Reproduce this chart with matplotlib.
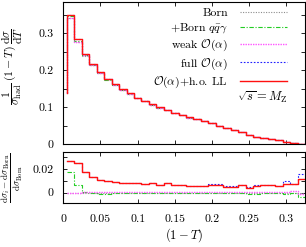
import numpy as np
import matplotlib
matplotlib.use("Agg")
import matplotlib.pyplot as plt

plt.rcParams['font.family'] = 'serif'
plt.rcParams['font.serif'] = ['cmr10', 'DejaVu Serif']
plt.rcParams['mathtext.fontset'] = 'cm'
plt.rcParams['axes.unicode_minus'] = False
plt.rcParams['axes.formatter.use_mathtext'] = True

# ---- data ----
bin_edges = np.round(np.arange(0.005, 0.3251, 0.01), 3)   # 32 bins of width 0.01
top_start = 0.138  # left edge of the first step

# O(alpha)+h.o. LL distribution (top panel)
ll_top = [0.350, 0.284, 0.244, 0.216, 0.195, 0.177, 0.162, 0.149, 0.138, 0.126,
          0.117, 0.108, 0.100, 0.093, 0.086, 0.080, 0.073, 0.068, 0.063, 0.057,
          0.051, 0.0445, 0.038, 0.033, 0.026, 0.021, 0.017, 0.014, 0.011, 0.008,
          0.005, 0.002]

# relative corrections (bottom panel)
r_born = [0.0] * 32
r_qqg = [0.017, 0.0063, 0.0003, 0.0, -0.0008, -0.001, -0.0005, -0.0003, 0.0, 0.0,
         0.0, 0.0, 0.0, 0.0, 0.0, 0.0, 0.0, 0.0, 0.0, 0.0,
         0.0, 0.0, 0.0, -0.0005, -0.0008, -0.0008, -0.0005, -0.0005, -0.0005, -0.0008,
         -0.0003, -0.0035]
r_weak = [0.0, 0.0, 0.0002, 0.0002, 0.0002, 0.0002, 0.0002, 0.0003, 0.0003, 0.0003,
          0.0003, 0.0003, 0.0003, 0.0003, 0.0003, 0.0003, 0.0004, 0.0004, 0.0004, 0.0004,
          0.0005, 0.0005, 0.0005, 0.0005, 0.0006, 0.0006, 0.0006, 0.0007, 0.0007, 0.0008,
          0.0012, -0.0015]
r_full = [0.027, 0.025, 0.017, 0.0135, 0.011, 0.010, 0.0092, 0.0085, 0.0085, 0.0085,
          0.0072, 0.0085, 0.0065, 0.008, 0.0068, 0.0062, 0.0055, 0.0055, 0.0058, 0.0072,
          0.0072, 0.0055, 0.0055, 0.0065, 0.0045, 0.0068, 0.0068, 0.0065, 0.0055, 0.0100,
          0.0075, 0.0160]
r_ll = [0.027, 0.025, 0.017, 0.0135, 0.011, 0.010, 0.0092, 0.0085, 0.008, 0.008,
        0.0072, 0.0085, 0.0065, 0.008, 0.0068, 0.0062, 0.0055, 0.0055, 0.0058, 0.0068,
        0.0068, 0.005, 0.005, 0.0065, 0.0035, 0.006, 0.0062, 0.0062, 0.0052, 0.007,
        0.007, 0.0115]

labels = ["Born", r"+Born $q\bar{q}\gamma$", r"weak $\mathcal{O}(\alpha)$",
          r"full $\mathcal{O}(\alpha)$", r"$\mathcal{O}(\alpha)$+h.o. LL"]

# derived top-panel curves: Born and Born*(1+ratio)
born_top = np.array(ll_top) / (1 + np.array(r_ll))
ratios = [r_born, r_qqg, r_weak, r_full, r_ll]
tops = [born_top * (1 + np.array(r)) for r in ratios]

styles = [
    dict(color='#8c8c8c', ls=(0, (1, 1.3)), lw=0.8),
    dict(color='#22cc22', ls=(0, (4, 1.5, 1, 1.5)), lw=0.8),
    dict(color='#ff55ff', ls=(0, (1, 0.8)), lw=1.0),
    dict(color='#1f1fff', ls=(0, (1.5, 1.5)), lw=0.8),
    dict(color='#ff1010', ls='-', lw=1.0),
]


def stair(edges, vals, start):
    x = np.r_[edges[0], edges]
    y = np.r_[start, vals, vals[-1]]
    return x, y


fig = plt.figure(figsize=(3.06, 2.47), dpi=100)
ax1 = fig.add_axes([0.2069, 0.415, 0.7898, 0.5781])
ax2 = fig.add_axes([0.2069, 0.1769, 0.7898, 0.2065])

handles = []
for vals, st, lab in zip(tops, styles, labels):
    x, y = stair(bin_edges, vals, top_start)
    h, = ax1.plot(x, y, drawstyle='steps-post', label=lab, **st)
    handles.append(h)

for vals, st in zip(ratios, styles):
    x, y = stair(bin_edges, np.array(vals), vals[0])
    ax2.plot(x, y, drawstyle='steps-post', **st)

fs = 8.5
for ax in (ax1, ax2):
    ax.set_xlim(0, 0.325)
    ax.set_xticks([0, 0.05, 0.1, 0.15, 0.2, 0.25, 0.3])
    ax.tick_params(which='both', direction='in', top=True, right=True,
                   length=3, width=0.6, labelsize=fs)
    ax.tick_params(axis='x', pad=8)
    ax.tick_params(axis='y', pad=7)
    for s in ax.spines.values():
        s.set_linewidth(0.8)

ax1.set_ylim(0, 0.385)
ax1.set_yticks([0, 0.1, 0.2, 0.3])
ax1.set_yticks([0.05, 0.15, 0.25, 0.35], minor=True)
ax1.set_yticklabels(['0', '0.1', '0.2', '0.3'])
ax1.tick_params(labelbottom=False)

ax2.set_ylim(-0.009, 0.034)
ax2.set_yticks([0, 0.02])
ax2.set_yticks([0.01, 0.03], minor=True)
ax2.set_yticklabels(['0', '0.02'])
ax2.set_xticklabels(['0', '0.05', '0.1', '0.15', '0.2', '0.25', '0.3'])

ax1.set_ylabel(r'$\dfrac{1}{\sigma_{\rm had}}\,(1-T)\,\dfrac{\mathrm{d}\sigma}{\mathrm{d}T}$',
               fontsize=fs)
ax2.set_ylabel(r'$\frac{\mathrm{d}\sigma_i-\mathrm{d}\sigma_{\rm Born}}{\mathrm{d}\sigma_{\rm Born}}$',
               fontsize=fs + 1, va='center')
ax1.yaxis.set_label_coords(-0.16, 0.55)
ax2.yaxis.set_label_coords(-0.21, 0.5)
ax2.set_xlabel(r'$(1-T)$', fontsize=fs + 0.5, labelpad=2)

leg = ax1.legend(handles=handles, loc='upper right', bbox_to_anchor=(0.925, 0.955),
                 frameon=False, markerfirst=False, fontsize=fs, handlelength=4.0,
                 handletextpad=1.0, labelspacing=0.25, borderpad=0, borderaxespad=0)

ax1.text(0.925, 0.33, r'$\sqrt{s}=M_{\mathrm{Z}}$', transform=ax1.transAxes,
         ha='right', va='center', fontsize=fs + 0.5)

fig.savefig('out.png', dpi=100)
